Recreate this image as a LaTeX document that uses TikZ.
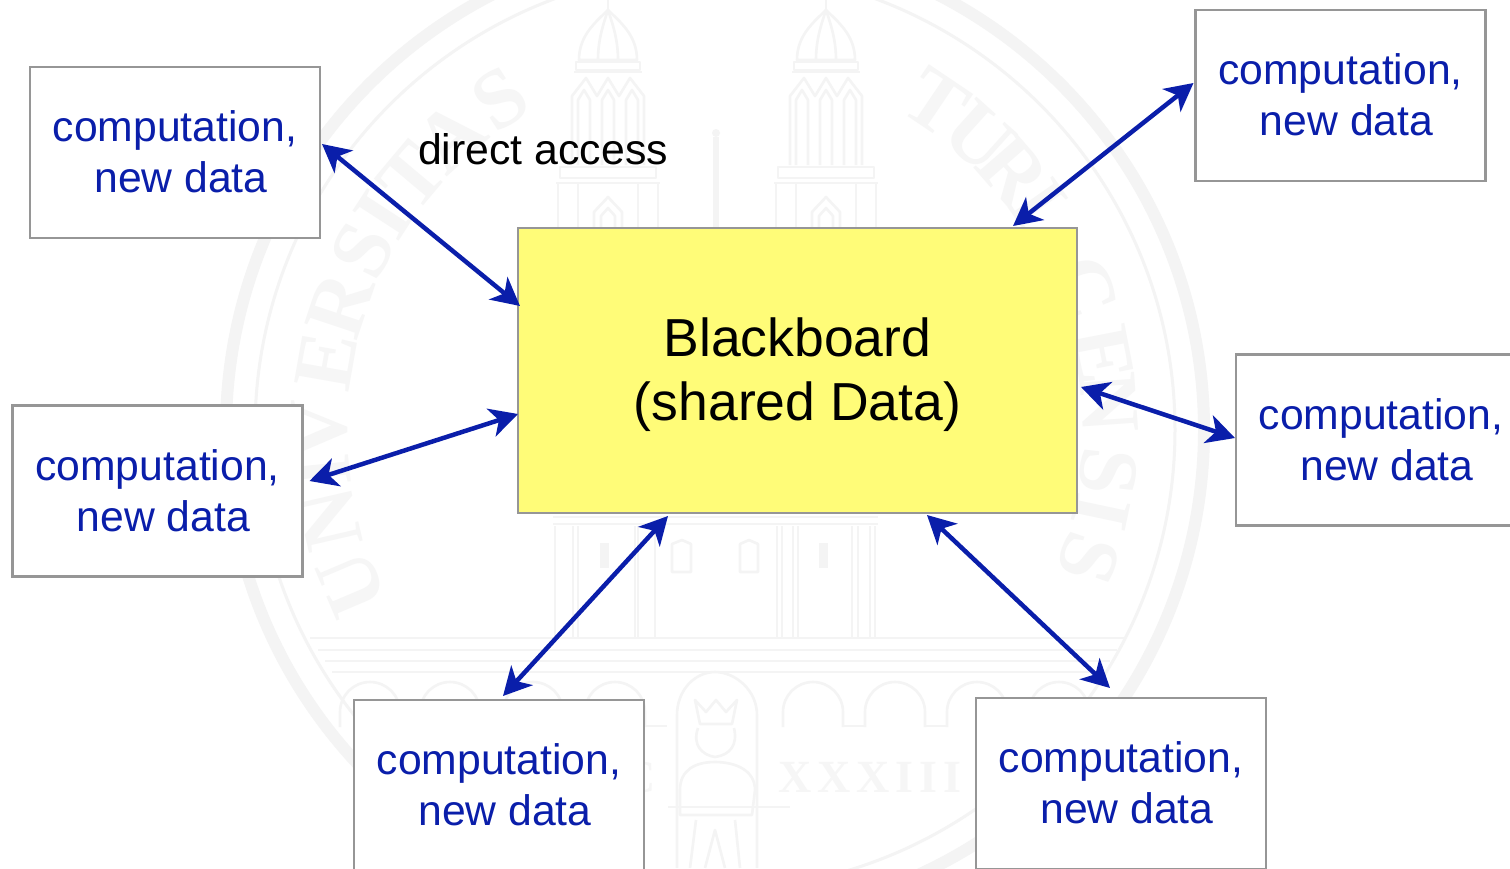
\documentclass[tikz,border=0pt]{standalone}
\usepackage{fontspec}
\setmainfont{Liberation Sans}
\newfontfamily\wmserif{Liberation Serif}
\usetikzlibrary{arrows.meta}
\definecolor{wmgray}{HTML}{F4F4F4}
\definecolor{wmpale}{HTML}{F6F6F6}
\definecolor{linkblue}{HTML}{0A1EAA}
\definecolor{boxgray}{HTML}{969696}
\definecolor{boardyellow}{HTML}{FFFC78}
\tikzset{
  wmline/.style={draw=wmgray,line width=2.6pt,line join=round},
  wmletter/.style={text=wmpale,font=\wmserif\bfseries\fontsize{84}{84}\selectfont,inner sep=0pt},
  workbox/.style={draw=boxgray,line width=2.5pt,fill=white,inner sep=0pt,outer sep=0pt,
    minimum width=290pt,minimum height=171pt,text=linkblue,align=center,text depth=1.5pt,
    font=\fontsize{42.7}{51.3}\selectfont},
  boardbox/.style={draw=boxgray,line width=2.5pt,fill=boardyellow,inner sep=0pt,outer sep=0pt,
    minimum width=559pt,minimum height=285pt,text=black,align=center,
    font=\fontsize{53.5}{64}\selectfont},
  labeltext/.style={text=black,inner sep=0pt,font=\fontsize{42.8}{51}\selectfont},
  link/.style={draw=linkblue,line width=4.5pt,
    {Stealth[length=28pt,width=29pt,inset=8pt]}-{Stealth[length=28pt,width=29pt,inset=8pt]}}
}
\newcommand{\worktext}{computation,\\\hspace*{12pt}new data}
\begin{document}
\begin{tikzpicture}[x=1pt,y=-1pt]
\useasboundingbox (0,0) rectangle (1510,868);
\begin{scope}
\clip (0,0) rectangle (1510,868);
\fill[white] (0,0) rectangle (1510,868);
% seal rings
\draw[draw=wmgray,line width=12pt] (715,430) circle[radius=489];
\draw[draw=wmgray,line width=3pt] (715,430) circle[radius=460];
% seal lettering
\foreach \l/\a in {U/203,N/193,I/186,V/180,E/170,R/161.5,S/153,I/147,T/140,A/132,S/123,
                   T/56,U/48,R/41,I/35,C/21,E/11,N/4,S/-6,I/-12,S/-19}
  \node[wmletter,rotate=\a-90] at ({715+395*cos(\a)},{430-395*sin(\a)}) {\l};
% towers
\foreach \c in {608,826}{
  \draw[wmline] (\c,0) -- (\c,10);
  \draw[wmline] (\c-29,60) .. controls (\c-29,35) and (\c-12,22) .. (\c,10) .. controls (\c+12,22) and (\c+29,35) .. (\c+29,60) -- cycle;
  \draw[wmline] (\c-10,60) .. controls (\c-10,40) and (\c-5,25) .. (\c,10) .. controls (\c+5,25) and (\c+10,40) .. (\c+10,60);
  \draw[wmline] (\c-32,62) rectangle (\c+32,70);
  \draw[wmline] (\c-36,165) -- (\c-36,96) -- (\c-22,78) -- (\c-11,96) -- (\c,78) -- (\c+11,96) -- (\c+22,78) -- (\c+36,96) -- (\c+36,165);
  \draw[wmline] (\c-34,72) -- (\c+34,72);
  \foreach \d in {-24,0,24}{
    \draw[wmline] (\c+\d-6,165) -- (\c+\d-6,100) -- (\c+\d,90) -- (\c+\d+6,100) -- (\c+\d+6,165);
  }
  \draw[wmline] (\c-48,167) -- (\c+48,167) -- (\c+48,178) -- (\c-48,178) -- cycle;
  \draw[wmline] (\c-52,183) -- (\c+52,183);
  \foreach \d in {-50,-30,30,50}{ \draw[wmline] (\c+\d,184) -- (\c+\d,228); }
  \draw[wmline] (\c-14,228) -- (\c-14,212) -- (\c,197) -- (\c+14,212) -- (\c+14,228);
  \draw[wmline] (\c-7,228) -- (\c-7,216) -- (\c,208) -- (\c+7,216) -- (\c+7,228);
}
% central spire
\fill[wmgray] (716,133) circle[radius=4];
\fill[wmgray] (713,137) rectangle (719,228);
% lower building
\draw[wmline] (553,517) -- (878,517);
\draw[wmline] (553,524) -- (878,524);
\foreach \x in {555,573,578,635,638,655,777,782,793,798,852,858,870,875}
  \draw[wmline] (\x,526) -- (\x,638);
\draw[wmline] (672,572) -- (672,544) -- (682,540) -- (691,544) -- (691,572) -- cycle;
\draw[wmline] (740,572) -- (740,544) -- (749,540) -- (758,544) -- (758,572) -- cycle;
\fill[wmgray] (600,543) rectangle (609,568);
\fill[wmgray] (819,543) rectangle (828,568);
% horizontal steps
\draw[wmline] (310,638) -- (1125,638);
\draw[wmline] (318,650) -- (1117,650);
\draw[wmline] (325,661) -- (1110,661);
\draw[wmline] (332,672) -- (1103,672);
% arcade
\foreach \x in {370,450,533,615,813,895,977,1059}{
  \draw[wmline] (\x-30,727) -- (\x-30,712) arc[start angle=180,end angle=360,radius=30] -- (\x+30,727);
  \draw[wmline] (\x+30,726) -- (\x+52,726);
}
% niche and figure
\draw[wmline] (677,868) -- (677,715) .. controls (677,690) and (695,672) .. (715,672) .. controls (735,672) and (757,690) .. (757,715) -- (757,868);
\draw[wmline] (695,700) -- (700,724) -- (732,724) -- (737,700) -- (726,712) -- (716,700) -- (706,712) -- cycle;
\draw[wmline] (698,728) .. controls (692,745) and (702,755) .. (715,757) .. controls (730,755) and (738,745) .. (734,728);
\draw[wmline] (680,790) .. controls (680,770) and (695,762) .. (715,762) .. controls (735,762) and (755,770) .. (755,790) -- (752,815) -- (680,815) -- cycle;
\draw[wmline] (668,807) -- (790,807);
\draw[wmline] (690,868) -- (696,820);
\draw[wmline] (740,868) -- (735,820);
\draw[wmline] (705,868) -- (715,830) -- (725,868);
% year
\node[text=wmpale,anchor=west,inner sep=0pt,font=\wmserif\bfseries\fontsize{46}{46}\selectfont] at (778,777) {X\hspace{6pt}X\hspace{6pt}X\hspace{6pt}I\hspace{6pt}I\hspace{6pt}I};
\node[text=wmpale,anchor=east,inner sep=0pt,font=\wmserif\bfseries\fontsize{46}{46}\selectfont] at (656,777) {C};
\end{scope}
% diagram
\node[boardbox] (board) at (797.5,370.5) {\rule{0pt}{47pt}Blackboard\\(shared Data)};
\node[workbox] (wa) at (175,152.5) {\worktext};
\node[workbox] (wb) at (1340.5,95.5) {\worktext};
\node[workbox] (wc) at (157.5,491) {\worktext};
\node[workbox] (wd) at (1381,440) {\worktext};
\node[workbox] (we) at (499,785.5) {\worktext};
\node[workbox] (wf) at (1121,783.5) {\worktext};
\node[labeltext] (access) at (543,149.5) {direct access};
\draw[link] ([shift={(2,-8.5)}]wa.east) -- ([shift={(2,-64.5)}]board.west);
\draw[link] ([shift={(7,-10)}]wc.east) -- ([shift={(0,43.5)}]board.west);
\draw[link] ([shift={(215.5,-2)}]board.north) -- ([shift={(-2,-12.5)}]wb.west);
\draw[link] ([shift={(4,16.5)}]board.east) -- ([shift={(-1,-2)}]wd.west);
\draw[link] ([shift={(4,-4)}]we.north) -- ([shift={(-129.5,3)}]board.south);
\draw[link] ([shift={(129.5,2)}]board.south) -- ([shift={(-11,-10)}]wf.north);
\end{tikzpicture}
\end{document}
